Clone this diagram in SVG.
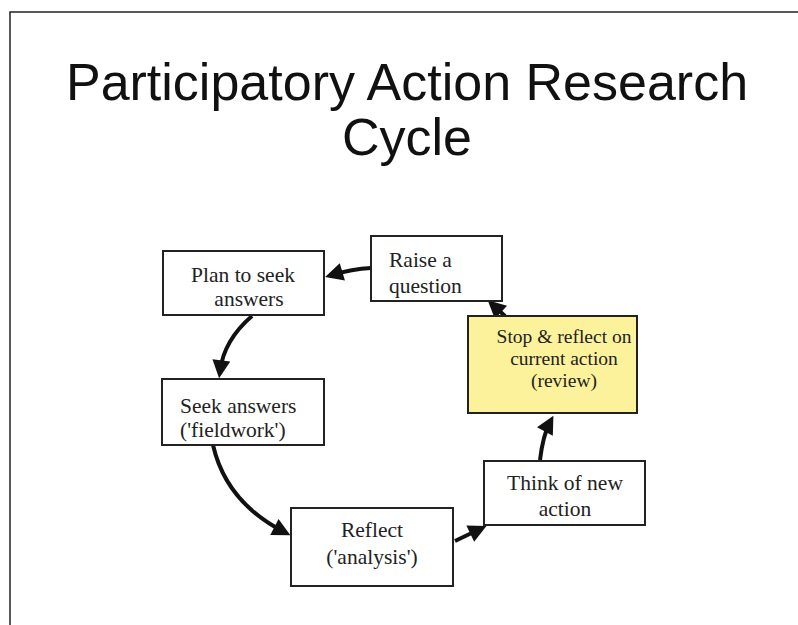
<svg xmlns="http://www.w3.org/2000/svg" width="798" height="625" viewBox="0 0 798 625">
<defs>
<style>
.title{font-family:"Liberation Sans",Arial,sans-serif;font-size:52px;fill:#111;text-anchor:middle}
.box{fill:#fff;stroke:#222;stroke-width:2}
.yel{fill:#fdf29c;stroke:#222;stroke-width:2}
.lbl{font-family:"Liberation Serif","Times New Roman",serif;font-size:21.5px;fill:#222}
.mid{text-anchor:middle}
.sm{font-size:19.5px}
.conn{fill:none;stroke:#111;stroke-width:4;marker-end:url(#ah)}
</style>
<marker id="ah" viewBox="0 0 10 10" refX="6" refY="5" markerWidth="20" markerHeight="18" markerUnits="userSpaceOnUse" orient="auto">
<path d="M0,0 L10,5 L0,10 z" fill="#111"/>
</marker>
</defs>
<rect x="0" y="0" width="798" height="625" fill="#fff"/>
<path d="M10,625 V12 H798" fill="none" stroke="#222" stroke-width="1.5"/>
<text class="title" x="407" y="100">Participatory Action Research</text>
<text class="title" x="407" y="155">Cycle</text>

<g id="connectors">
<path class="conn" d="M371,268 Q352,269 332,275"/>
<path class="conn" d="M252,316 Q224,340 220,371"/>
<path class="conn" d="M213,445 Q226,502 284,532"/>
<path class="conn" d="M455,541 L480,529"/>
<path class="conn" d="M540,460 Q543,435 550,422"/>
<path class="conn" d="M505,316 L493,305"/>
</g>

<g id="raise">
<rect class="box" x="371" y="236" width="131" height="65"/>
<text class="lbl" x="389" y="267">Raise a</text>
<text class="lbl" x="389" y="293">question</text>
</g>
<g id="plan">
<rect class="box" x="163" y="251" width="161" height="64"/>
<text class="lbl mid" x="243" y="282">Plan to seek</text>
<text class="lbl mid" x="249" y="306">answers</text>
</g>
<g id="seek">
<rect class="box" x="162" y="379" width="162" height="66"/>
<text class="lbl" x="180" y="413">Seek answers</text>
<text class="lbl" x="180" y="437">('fieldwork')</text>
</g>
<g id="reflect">
<rect class="box" x="291" y="508" width="162" height="78"/>
<text class="lbl mid" x="372" y="537">Reflect</text>
<text class="lbl mid" x="372" y="564">('analysis')</text>
</g>
<g id="think">
<rect class="box" x="484" y="461" width="161" height="64"/>
<text class="lbl mid" x="565" y="490">Think of new</text>
<text class="lbl mid" x="565" y="516">action</text>
</g>
<g id="stop">
<rect class="yel" x="468" y="316" width="169" height="97"/>
<text class="lbl sm mid" x="564" y="343">Stop &amp; reflect on</text>
<text class="lbl sm mid" x="564" y="365">current action</text>
<text class="lbl sm mid" x="564" y="387">(review)</text>
</g>
</svg>
